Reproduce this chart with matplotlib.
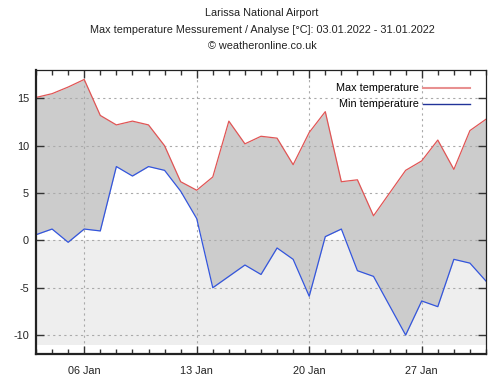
import numpy as np
import matplotlib.pyplot as plt
from matplotlib.ticker import MultipleLocator, FixedLocator

plt.rcParams['font.family'] = ['Liberation Sans', 'DejaVu Sans']

# Data: daily values, Larissa, 03.01.2022 - 31.01.2022
days = list(range(3, 32))
max_temp = [15.1, 15.5, 16.2, 17.0, 13.2, 12.2, 12.6, 12.2, 10.0, 6.2,
            5.3, 6.7, 12.6, 10.2, 11.0, 10.8, 8.0, 11.4, 13.6, 6.2,
            6.4, 2.6, 5.0, 7.4, 8.4, 10.6, 7.5, 11.6, 12.8]
min_temp = [0.6, 1.2, -0.2, 1.2, 1.0, 7.8, 6.8, 7.8, 7.4, 5.2,
            2.3, -5.0, -3.8, -2.6, -3.6, -0.8, -2.0, -5.9, 0.4, 1.2,
            -3.2, -3.8, -6.9, -10.0, -6.4, -7.0, -2.0, -2.4, -4.3]
major_days = [6, 13, 20, 27]
major_labels = ['06 Jan', '13 Jan', '20 Jan', '27 Jan']
y_ticks = [-10, -5, 0, 5, 10, 15]

fig = plt.figure(figsize=(5.03, 3.86), dpi=100)
ax = fig.add_axes([36/503, 32/386, 450/503, 284/386])

# light band below zero
ax.axhspan(-11, 0, color='#eeeeee', zorder=0, lw=0)
ax.fill_between(days, min_temp, max_temp, color='#cccccc', lw=0, zorder=1)
ax.plot(days, max_temp, color='#e05555', lw=0.9, zorder=3, label='Max temperature')
ax.plot(days, min_temp, color='#3355dd', lw=0.9, zorder=3, label='Min temperature')

ax.set_xlim(3, 31)
ax.set_ylim(-12, 18)
ax.set_yticks(y_ticks)
ax.set_yticklabels([str(v) for v in y_ticks])
ax.xaxis.set_major_locator(FixedLocator(major_days))
ax.set_xticklabels(major_labels)
ax.xaxis.set_minor_locator(MultipleLocator(1))

ax.grid(True, which='major', color='#aaaaaa', linestyle=(0, (2, 3)), lw=0.8, zorder=2)
ax.set_axisbelow(False)

ax.tick_params(axis='both', which='major', direction='in', length=5.5, width=1,
               labelsize=7.8, colors='#333333', labelcolor='#222222',
               top=True, right=True, pad=5)
ax.tick_params(axis='x', which='minor', direction='in', length=3.5, width=1,
               top=True, colors='#333333')
ax.tick_params(axis='x', which='major', pad=9)

for side in ['left', 'bottom']:
    ax.spines[side].set_linewidth(1.6)
for side in ['top', 'right']:
    ax.spines[side].set_linewidth(0.9)
for s in ax.spines.values():
    s.set_color('#222222')
    s.set_zorder(5)

leg = ax.legend(loc='upper right', frameon=False, fontsize=7.8, markerfirst=False,
                handlelength=4.3, handletextpad=0.4, labelspacing=0.55,
                borderaxespad=0.0, bbox_to_anchor=(1 - 12/450, 1 - 9/284))
leg.get_lines()[0].set_color('#e89090')
leg.get_lines()[0].set_linewidth(1.5)
leg.get_lines()[1].set_color('#223399')
leg.get_lines()[1].set_linewidth(1.0)

cx = 262 / 503
fig.text(cx, 1 - 13/386, 'Larissa National Airport', ha='center', va='center',
         fontsize=7.8, color='#222222')
fig.text(cx, 1 - 30/386, 'Max temperature Messurement / Analyse [°C]: 03.01.2022 - 31.01.2022',
         ha='center', va='center', fontsize=7.8, color='#222222')
fig.text(cx, 1 - 46/386, '© weatheronline.co.uk', ha='center', va='center',
         fontsize=7.8, color='#222222')

fig.savefig('out.png', dpi=100)
